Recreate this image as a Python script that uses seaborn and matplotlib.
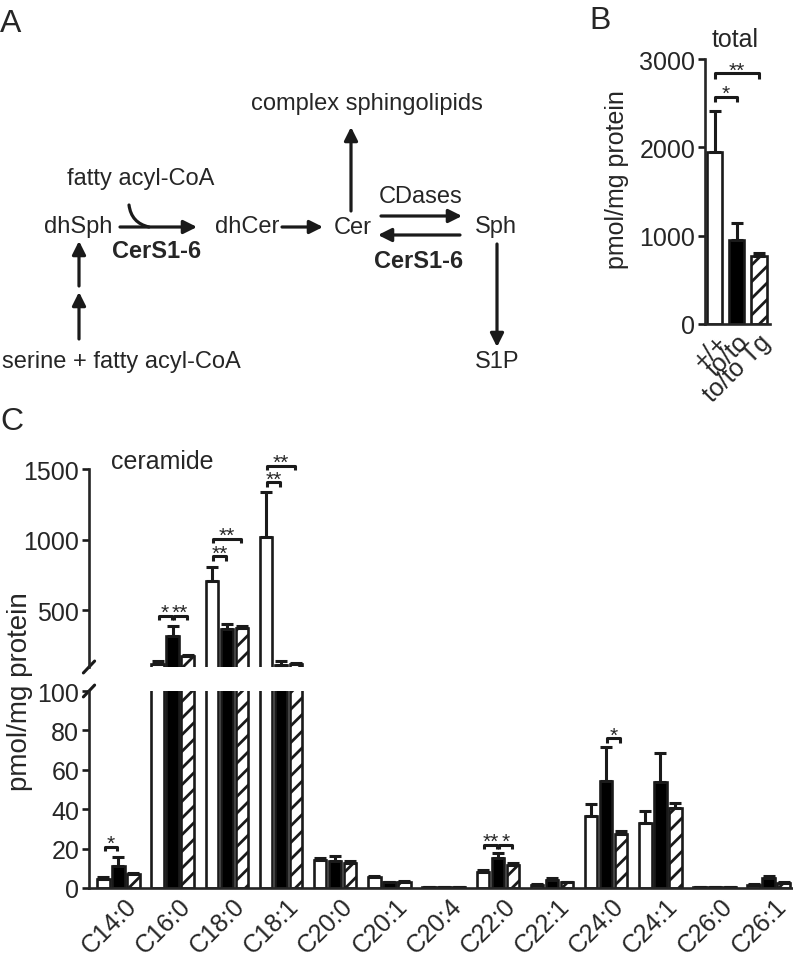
import numpy as np
import pandas as pd
import matplotlib
matplotlib.use('Agg')
import matplotlib.pyplot as plt
import matplotlib.transforms as mtransforms
import seaborn as sns

# ---- data ----
genotypes = ['+/+', 'to/to', 'to/to Tg']
colors = ['white', 'black', 'white']

total_mean = [1951, 955, 767]
total_err = [465, 189, 37]

chains = ['C14:0', 'C16:0', 'C18:0', 'C18:1', 'C20:0', 'C20:1', 'C20:4',
          'C22:0', 'C22:1', 'C24:0', 'C24:1', 'C26:0', 'C26:1']
wt_mean = [4.6, 121, 706, 1017, 14.2, 5.4, 0.4, 8.3, 1.7, 36.7, 33.0, 0.4, 1.7]
wt_err = [1.2, 19, 103, 323, 1.0, 0.7, 0.2, 0.9, 0.5, 6.1, 6.1, 0.1, 0.4]
to_mean = [11.3, 317, 369, 114, 13.9, 2.8, 0.5, 15.2, 4.2, 54.5, 54.0, 0.5, 4.9]
to_err = [4.4, 75, 33, 31, 2.5, 0.3, 0.2, 2.4, 1.0, 17.1, 14.5, 0.1, 1.0]
tg_mean = [7.1, 175, 374, 119, 12.7, 3.2, 0.3, 11.7, 2.8, 27.4, 40.4, 0.4, 2.5]
tg_err = [0.5, 8, 14, 9, 0.8, 0.3, 0.1, 0.8, 0.3, 1.5, 2.6, 0.1, 0.5]

# significance brackets
total_sig = [(0, 1, 2574, '*'), (0, 2, 2838, '**')]
cer_sig = [('low', 0, 0, 1, 21, '*'),
           ('up', 1, 0, 1, 463, '*'), ('up', 1, 1, 2, 463, '**'),
           ('up', 2, 0, 1, 883, '**'), ('up', 2, 0, 2, 1005, '**'),
           ('up', 3, 0, 1, 1406, '**'), ('up', 3, 0, 2, 1524, '**'),
           ('low', 7, 0, 1, 22, '**'), ('low', 7, 1, 2, 22, '*'),
           ('low', 9, 1, 2, 76, '*')]

# ---- style ----
sns.set_theme(style='ticks')
plt.rcParams['font.family'] = ['Liberation Sans', 'DejaVu Sans']
plt.rcParams['hatch.linewidth'] = 2.0
plt.rcParams['axes.linewidth'] = 1.9
plt.rcParams['axes.facecolor'] = 'none'
FS = 18
EDGE = 1.9

fig = plt.figure(figsize=(7.93, 9.62), dpi=100)
W, H = 793, 962

# pixel overlay for diagram / free text
pix = fig.add_axes([0, 0, 1, 1])
pix.set_xlim(0, W)
pix.set_ylim(H, 0)
pix.axis('off')


def px_axes(x0, y0, x1, y1):
    return fig.add_axes([x0 / W, 1 - y1 / H, (x1 - x0) / W, (y1 - y0) / H])


def style_axis(ax):
    ax.patch.set_alpha(0)
    ax.tick_params(axis='y', length=5, width=1.9, labelsize=FS, pad=2, color='k')
    ax.tick_params(axis='x', length=0, labelsize=FS, pad=4)
    for s in ['top', 'right']:
        ax.spines[s].set_visible(False)
    ax.set_xlabel('')
    ax.set_ylabel('')


def add_errors(ax, bar_groups, means, errs):
    for ci, bars in enumerate(bar_groups):
        for bi, bar in enumerate(bars):
            if ci == 2:
                bar.set_hatch('//')
            cx = bar.get_x() + bar.get_width() / 2
            ax.errorbar(cx, means[ci][bi], yerr=[[0], [errs[ci][bi]]], fmt='none',
                        ecolor='k', elinewidth=2.2, capsize=4, capthick=2.2, zorder=1)


def bracket(ax, x1, x2, y, h, label):
    ax.plot([x1, x1, x2, x2], [y - h, y, y, y - h], color='k', lw=2.2,
            clip_on=False, solid_capstyle='butt')
    ax.annotate(label, ((x1 + x2) / 2, y), xytext=(0, -4.5),
                textcoords='offset points', ha='center', va='bottom',
                fontsize=15, annotation_clip=False)


# ---- panel A: pathway diagram ----
labels_a = [('complex sphingolipids', 367, 104, 'normal'),
            ('fatty acyl-CoA', 141, 179, 'normal'),
            ('dhSph', 78, 227, 'normal'),
            ('CerS1-6', 157, 252, 'bold'),
            ('dhCer', 247, 227, 'normal'),
            ('Cer', 353, 228, 'normal'),
            ('CDases', 421, 197, 'normal'),
            ('Sph', 496, 227, 'normal'),
            ('CerS1-6', 419, 262, 'bold'),
            ('S1P', 497, 362, 'normal'),
            ('serine + fatty acyl-CoA', 121, 362, 'normal')]
for txt, x, y, w in labels_a:
    pix.text(x, y, txt, ha='center', va='center', fontsize=17, fontweight=w)

arrows_a = [((120, 228), (197, 228)), ((282, 228), (323, 228)),
            ((351, 212), (351, 128)), ((381, 217), (462, 217)),
            ((460, 236), (378, 236)), ((497, 245), (497, 348)),
            ((79, 287), (79, 242)), ((79, 340), (79, 293))]
for start, end in arrows_a:
    pix.annotate('', xy=end, xytext=start,
                 arrowprops=dict(arrowstyle='-|>,head_length=0.4,head_width=0.2',
                                 color='k', lw=2.3, mutation_scale=20,
                                 shrinkA=0, shrinkB=0))
pix.annotate('', xy=(149, 228), xytext=(129, 206),
             arrowprops=dict(arrowstyle='-', color='k', lw=2.3,
                             connectionstyle='arc3,rad=0.35', shrinkA=0, shrinkB=0))

# panel letters and free text
pix.text(0, 24, 'A', fontsize=23, va='center', ha='left')
pix.text(589, 21, 'B', fontsize=23, va='center', ha='left')
pix.text(0, 422, 'C', fontsize=23, va='center', ha='left')
pix.text(735, 40, 'total', fontsize=FS, ha='center', va='center')
pix.text(162, 462, 'ceramide', fontsize=FS, ha='center', va='center')
pix.text(617, 180, 'pmol/mg protein', fontsize=FS, rotation=90, ha='center', va='center')
pix.text(20, 692, 'pmol/mg protein', fontsize=20, rotation=90, ha='center', va='center')

# ---- panel B: total ----
df_total = pd.DataFrame({'genotype': genotypes, 'value': total_mean})
axb = px_axes(705, 60, 770, 325)
sns.barplot(data=df_total, x='genotype', y='value', hue='genotype',
            palette=colors, edgecolor='k', linewidth=EDGE, width=0.7,
            saturation=1, errorbar=None, legend=False, ax=axb)
bars_b = list(axb.patches)
for bi, bar in enumerate(bars_b):
    if bi == 2:
        bar.set_hatch('//')
    cx = bar.get_x() + bar.get_width() / 2
    axb.errorbar(cx, total_mean[bi], yerr=[[0], [total_err[bi]]], fmt='none',
                 ecolor='k', elinewidth=2.2, capsize=4, capthick=2.2, zorder=1)
axb.set_ylim(0, 3000)
axb.set_yticks([0, 1000, 2000, 3000])
axb.set_xlim(-0.43, 2.5)
style_axis(axb)
axb.set_xticks(range(3))
axb.set_xticklabels(genotypes, rotation=45, ha='right', rotation_mode='anchor')
for i, j, y, lab in total_sig:
    bracket(axb, i, j, y, 60, lab)

# ---- panel C: ceramide species, broken axis ----
df_cer = pd.DataFrame({
    'chain': chains * 3,
    'genotype': np.repeat(genotypes, len(chains)),
    'value': wt_mean + to_mean + tg_mean,
})
means_c = [wt_mean, to_mean, tg_mean]
errs_c = [wt_err, to_err, tg_err]

ax_up = px_axes(89, 470, 792, 668)
ax_lo = px_axes(89, 692, 792, 889)
for ax in (ax_up, ax_lo):
    sns.barplot(data=df_cer, x='chain', y='value', hue='genotype',
                hue_order=genotypes, palette=colors, edgecolor='k',
                linewidth=EDGE, width=0.83, gap=0.17, saturation=1,
                errorbar=None, legend=False, ax=ax)
    bar_groups = [list(c) for c in ax.containers[:3]]
    add_errors(ax, bar_groups, means_c, errs_c)
    ax.set_xlim(-0.544, 12.43)
    style_axis(ax)

ax_up.set_ylim(100, 1500)
ax_up.set_yticks([500, 1000, 1500])
ax_up.spines['bottom'].set_visible(False)
ax_up.tick_params(axis='x', bottom=False, labelbottom=False)

ax_lo.set_ylim(0, 100)
ax_lo.set_yticks([0, 20, 40, 60, 80, 100])
shift = mtransforms.ScaledTranslation(4 / 72, 0, fig.dpi_scale_trans)
for lab in ax_lo.get_xticklabels():
    lab.set_rotation(45)
    lab.set_ha('right')
    lab.set_rotation_mode('anchor')
    lab.set_transform(lab.get_transform() + shift)

# break marks on the y axis
for ax, yy in ((ax_up, 0.0), (ax_lo, 1.0)):
    ax.plot([-0.008, 0.008], [yy - 0.03, yy + 0.03], transform=ax.transAxes,
            color='k', lw=2.2, clip_on=False)

offs = [-0.277, 0.0, 0.277]
for which, g, i, j, y, lab in cer_sig:
    ax = ax_up if which == 'up' else ax_lo
    h = 30 if which == 'up' else 2.2
    bracket(ax, g + offs[i] + 0.02, g + offs[j] - 0.02, y, h, lab)

fig.savefig('out.png', dpi=100, facecolor='white')
